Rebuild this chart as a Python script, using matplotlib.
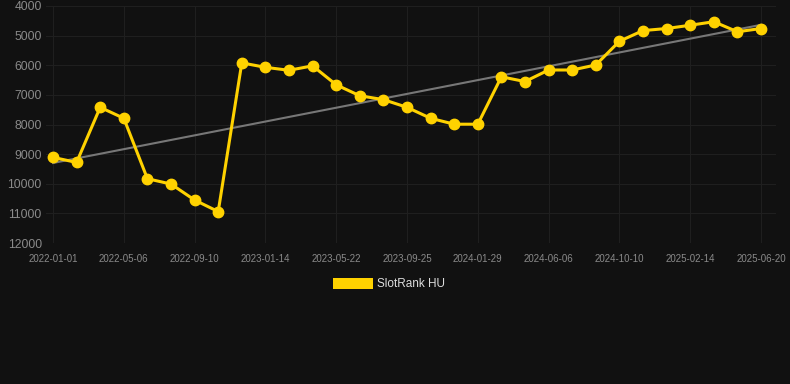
import numpy as np
import matplotlib
matplotlib.use("Agg")
import matplotlib.pyplot as plt
from matplotlib.patches import Patch

plt.rcParams['font.family'] = ['Liberation Sans', 'DejaVu Sans']

rank = [9110, 9280, 7420, 7790, 9830, 10010, 10550, 10940, 5920, 6070,
        6170, 6020, 6660, 7030, 7160, 7420, 7790, 7990, 7990, 6390,
        6550, 6160, 6160, 5990, 5190, 4830, 4760, 4650, 4530, 4870, 4760]
tick_labels = ["2022-01-01", "2022-05-06", "2022-09-10", "2023-01-14", "2023-05-22",
               "2023-09-25", "2024-01-29", "2024-06-06", "2024-10-10", "2025-02-14",
               "2025-06-20"]

x = np.arange(len(rank))
bg = "#111111"

fig = plt.figure(figsize=(7.9, 3.84), dpi=100, facecolor=bg)
ax = fig.add_axes([46 / 790, 1 - 243 / 384, 730 / 790, 237 / 384], facecolor=bg)

# trend line
k, b = np.polyfit(x, rank, 1)
ax.plot(x, k * x + b, color="#777777", linewidth=1.5, zorder=2)

ax.plot(x, rank, color="#FFD200", linewidth=2.2, marker="o", markersize=7.5, zorder=3)

px = 708 / 30
ax.set_xlim(-7 / px, 30 + 15 / px)
ax.set_ylim(12000, 4000)
ax.set_yticks(range(4000, 12001, 1000))
ax.set_xticks(x[::3])
ax.set_xticklabels(tick_labels)

ax.grid(True, color="#1f1f1f", linewidth=0.8)
ax.set_axisbelow(True)
for s in ax.spines.values():
    s.set_visible(False)
ax.tick_params(axis="y", length=0, pad=3, labelsize=8.7, labelcolor="#8a8a8a")
ax.tick_params(axis="x", length=0, pad=8, labelsize=7, labelcolor="#8a8a8a")

leg = fig.legend(handles=[Patch(facecolor="#FFD200", label="SlotRank HU")],
                 loc="center", bbox_to_anchor=(389 / 790, 1 - 284 / 384),
                 frameon=False, fontsize=8.5, handlelength=3.4, handleheight=1.1,
                 handletextpad=0.4, labelcolor="#dddddd")

fig.savefig("out.png", dpi=100, facecolor=bg)
